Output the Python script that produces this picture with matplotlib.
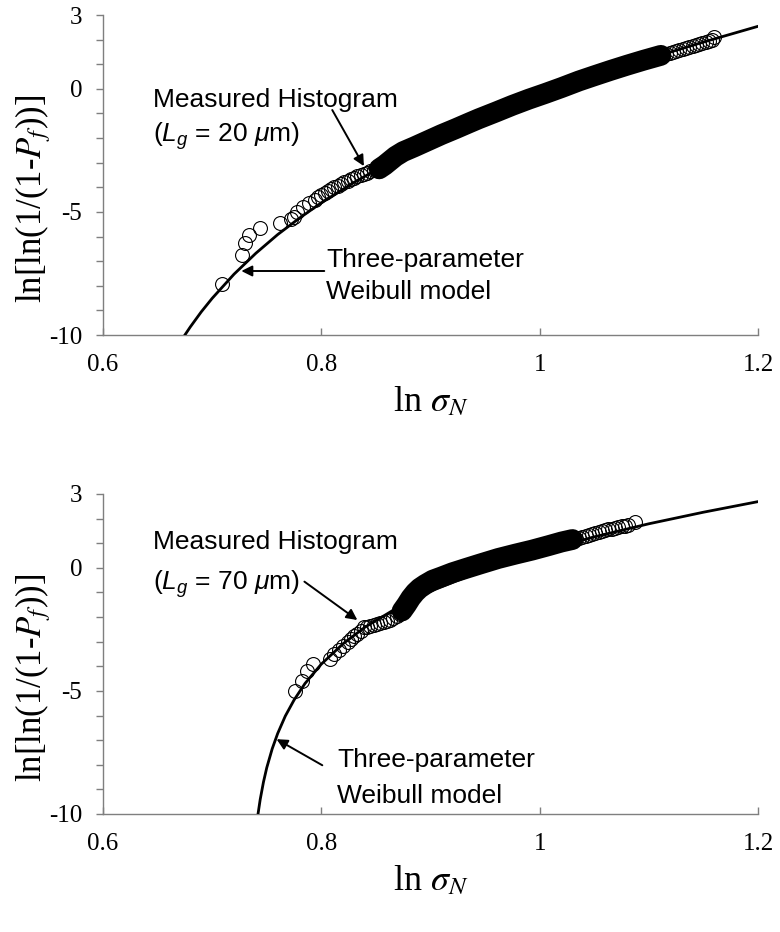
import matplotlib
matplotlib.use('Agg')
import matplotlib.pyplot as plt

# ------------------------------------------------------------------ #
# values
# ------------------------------------------------------------------ #
# three-parameter Weibull model, L_g = 20 um
top_curve_x = [0.675, 0.68, 0.69, 0.70, 0.72, 0.74, 0.76, 0.78, 0.80, 0.83, 0.86,
               0.90, 0.95, 1.00, 1.05, 1.10, 1.15, 1.20]
top_curve_y = [-10.0, -9.67, -9.06, -8.51, -7.53, -6.68, -5.92, -5.25, -4.63, -3.80, -3.05,
               -2.16, -1.18, -0.30, 0.50, 1.23, 1.90, 2.54]

# measured histogram, L_g = 20 um
top_x = [0.709, 0.727, 0.730, 0.734, 0.744, 0.762, 0.772, 0.775, 0.778, 0.783, 0.789, 0.794, 0.797,
         0.800, 0.803, 0.806, 0.809, 0.812, 0.815, 0.818, 0.821, 0.824, 0.827, 0.830, 0.833,
         0.836, 0.839, 0.842, 0.845, 0.848, 0.851,
         0.853, 0.858, 0.863, 0.868, 0.875, 0.885, 0.899, 0.910, 0.923, 0.935, 0.944, 0.960,
         0.975, 0.990, 1.005, 1.020, 1.036, 1.050, 1.065, 1.080, 1.095, 1.111,
         1.113, 1.116, 1.119, 1.122, 1.125, 1.128, 1.131, 1.134, 1.137, 1.140, 1.143, 1.146,
         1.149, 1.152, 1.155, 1.158, 1.160]
top_y = [-7.91, -6.76, -6.28, -5.94, -5.67, -5.47, -5.30, -5.20, -4.99, -4.79, -4.65, -4.52, -4.39,
         -4.30, -4.22, -4.14, -4.07, -4.00, -3.93, -3.86, -3.79, -3.73, -3.67, -3.61, -3.55,
         -3.50, -3.45, -3.40, -3.35, -3.30, -3.26,
         -3.25, -3.10, -2.92, -2.74, -2.55, -2.36, -2.08, -1.86, -1.62, -1.39, -1.22, -0.94,
         -0.67, -0.42, -0.19, 0.05, 0.32, 0.53, 0.75, 0.96, 1.16, 1.36,
         1.39, 1.43, 1.47, 1.51, 1.55, 1.59, 1.63, 1.67, 1.70, 1.74, 1.78, 1.82,
         1.86, 1.90, 1.95, 2.00, 2.12]
top_core = (0.853, 1.111)  # range where the circles merge into a solid band

# three-parameter Weibull model, L_g = 70 um
bot_curve_x = [0.742, 0.744, 0.747, 0.750, 0.755, 0.760, 0.767, 0.775, 0.785, 0.80, 0.82,
               0.84, 0.87, 0.90, 0.95, 1.00, 1.05, 1.10, 1.15, 1.20]
bot_curve_y = [-10.0, -9.41, -8.70, -8.12, -7.35, -6.73, -6.02, -5.37, -4.70, -3.91, -3.08,
               -2.41, -1.61, -0.95, -0.07, 0.65, 1.26, 1.79, 2.26, 2.69]

# measured histogram, L_g = 70 um
bot_x = [0.776, 0.782, 0.787, 0.792, 0.808, 0.812, 0.816, 0.820, 0.824, 0.827, 0.830, 0.833,
         0.836, 0.839,
         0.842, 0.845, 0.848, 0.851, 0.854, 0.857, 0.860, 0.863, 0.866, 0.869, 0.872,
         0.874, 0.878, 0.882, 0.886, 0.890, 0.895, 0.902, 0.910, 0.920, 0.932, 0.945, 0.962,
         0.978, 0.993, 1.008, 1.020, 1.030,
         1.033, 1.036, 1.039, 1.042, 1.045, 1.048, 1.051, 1.054, 1.057, 1.060, 1.063, 1.066,
         1.069, 1.072, 1.075, 1.078, 1.081, 1.087]
bot_y = [-5.00, -4.58, -4.20, -3.92, -3.72, -3.50, -3.34, -3.18, -3.02, -2.88, -2.78, -2.68,
         -2.56, -2.42,
         -2.40, -2.36, -2.32, -2.29, -2.25, -2.21, -2.16, -2.10, -2.03, -1.95, -1.86,
         -1.75, -1.50, -1.22, -1.00, -0.83, -0.68, -0.50, -0.37, -0.20, -0.03, 0.15, 0.38,
         0.56, 0.72, 0.90, 1.05, 1.15,
         1.18, 1.22, 1.26, 1.30, 1.34, 1.38, 1.42, 1.46, 1.50, 1.53, 1.56, 1.59,
         1.62, 1.65, 1.68, 1.71, 1.74, 1.87]
bot_core = (0.874, 1.030)

x_ticks = [0.6, 0.8, 1.0, 1.2]
x_tick_labels = ['0.6', '0.8', '1', '1.2']
y_ticks = list(range(-10, 4))
y_tick_labels = {3: '3', 0: '0', -5: '-5', -10: '-10'}

# ------------------------------------------------------------------ #
plt.rcParams['font.family'] = ['Liberation Serif', 'DejaVu Serif']
plt.rcParams['mathtext.fontset'] = 'custom'
plt.rcParams['mathtext.rm'] = 'Liberation Sans'
plt.rcParams['mathtext.it'] = 'Liberation Sans:italic'

AXIS_GREY = '#7f7f7f'

fig = plt.figure(figsize=(7.8, 9.32), dpi=100)
ax1 = fig.add_axes([103 / 780, 1 - 335 / 932, 655 / 780, 320 / 932])
ax2 = fig.add_axes([103 / 780, 1 - 814 / 932, 655 / 780, 320 / 932])


def style_axes(ax):
    ax.set_xlim(0.6, 1.2)
    ax.set_ylim(-10, 3)
    for side in ['top', 'right']:
        ax.spines[side].set_visible(False)
    for side in ['left', 'bottom']:
        ax.spines[side].set_color(AXIS_GREY)
        ax.spines[side].set_linewidth(1.0)
    ax.set_xticks(x_ticks)
    ax.set_xticklabels(x_tick_labels)
    ax.set_yticks(y_ticks)
    ax.set_yticklabels([y_tick_labels.get(v, '') for v in y_ticks])
    ax.tick_params(axis='x', direction='in', length=5, width=1, color=AXIS_GREY,
                   labelsize=18, pad=14)
    ax.tick_params(axis='y', direction='out', length=5, width=1, color=AXIS_GREY,
                   labelsize=18, pad=10)
    ax.set_xlabel(r'ln $\sigma_N$', fontsize=26, math_fontfamily='stix', va='center')
    ax.xaxis.set_label_coords(0.5, -0.21)
    ax.set_ylabel(r'ln[ln(1/(1-$P_f$))]', fontsize=25, math_fontfamily='stix', va='center')
    ax.yaxis.set_label_coords(-0.107, 0.425)


def draw_panel(ax, cx, cy, mx, my, core):
    # solid band where the circles pile up
    bx = [x for x in mx if core[0] <= x <= core[1]]
    by = [y for x, y in zip(mx, my) if core[0] <= x <= core[1]]
    ax.plot(bx, by, color='black', lw=15, solid_capstyle='round', zorder=2)
    ax.plot(mx, my, 'o', ms=10, mfc='none', mec='black', mew=0.8, zorder=3)
    ax.plot(cx, cy, color='black', lw=2, zorder=4)


def label(ax, pos1, pos2, txt1, txt2, tip, tail):
    kw = dict(fontsize=19, family='Liberation Sans', ha='left', va='baseline')
    ax.text(pos1[0], pos1[1], txt1, **kw)
    ax.text(pos2[0], pos2[1], txt2, **kw)
    ax.annotate('', xy=tip, xytext=tail,
                arrowprops=dict(arrowstyle='-|>', color='black', lw=1.4,
                                mutation_scale=16, shrinkA=0, shrinkB=0))


style_axes(ax1)
draw_panel(ax1, top_curve_x, top_curve_y, top_x, top_y, top_core)
label(ax1, (0.6457, -0.74), (0.6457, -2.16), 'Measured Histogram',
      r'($L_g$ = 20 $\mu$m)', (0.839, -3.14), (0.810, -0.86))
label(ax1, (0.8046, -7.24), (0.8046, -8.55), 'Three-parameter', 'Weibull model',
      (0.7267, -7.40), (0.8027, -7.40))

style_axes(ax2)
draw_panel(ax2, bot_curve_x, bot_curve_y, bot_x, bot_y, bot_core)
label(ax2, (0.6457, 0.76), (0.6457, -0.90), 'Measured Histogram',
      r'($L_g$ = 70 $\mu$m)', (0.833, -2.12), (0.7845, -0.56))
label(ax2, (0.8146, -8.10), (0.8146, -9.55), 'Three-parameter', 'Weibull model',
      (0.759, -6.96), (0.8009, -8.02))

fig.savefig('out.png', dpi=100)
